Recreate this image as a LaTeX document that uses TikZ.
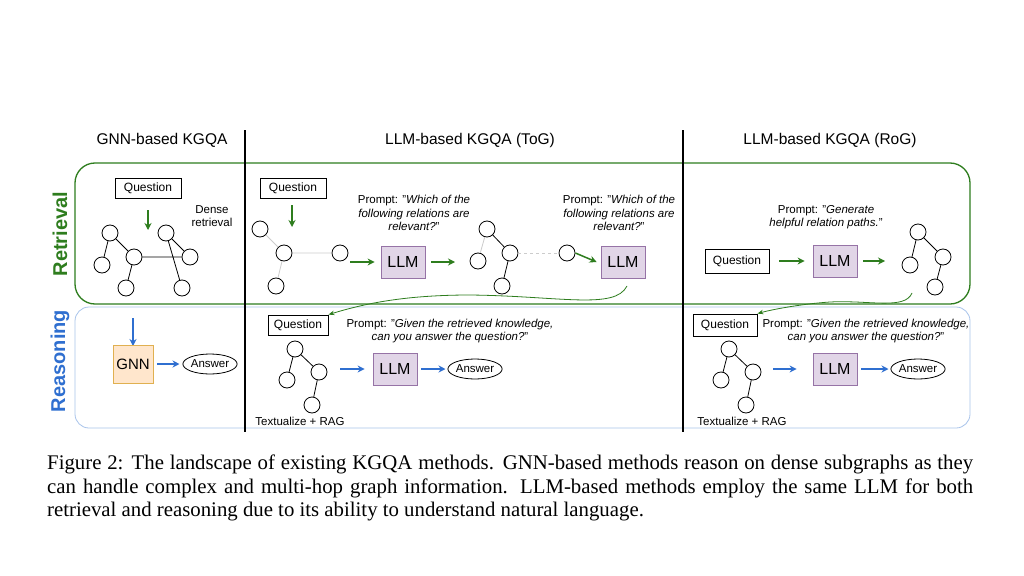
\documentclass[tikz,border=0pt]{standalone}
\usepackage{fontspec}
\usetikzlibrary{shapes.geometric,arrows.meta}
\setmainfont{Liberation Sans}
\newfontfamily\capfont{Liberation Serif}
\definecolor{gr}{HTML}{2E7D1E}
\definecolor{bl}{HTML}{2F6FD0}
\definecolor{pfill}{HTML}{E1D5E7}
\definecolor{pdraw}{HTML}{9673A6}
\definecolor{ofill}{HTML}{FFE6CC}
\definecolor{odraw}{HTML}{E0B050}
\definecolor{bbox}{HTML}{A9C4EB}
\begin{document}
\begin{tikzpicture}[x=1pt,y=-1pt,
  q/.style={draw,thick,minimum width=#1,minimum height=20,inner sep=0,font=\fontsize{12}{14}\selectfont},
  q/.default=66,
  llm/.style={draw=pdraw,fill=pfill,thick,minimum width=44,minimum height=32,inner sep=0,font=\fontsize{16}{18}\selectfont},
  ans/.style={draw,thick,ellipse,minimum width=46,minimum height=20,inner sep=0,font=\fontsize{11.5}{13}\selectfont},
  v/.style={circle,draw,thick,minimum size=16,inner sep=0},
  e/.style={thick},
  ge/.style={draw=gray!40,thick},
  ga/.style={draw=gr,line width=1.5pt,-{Stealth[length=7pt,width=7pt]}},
  ba/.style={draw=bl,line width=1.5pt,-{Stealth[length=7pt,width=7pt]}},
  pr/.style={align=center,font=\fontsize{11.5}{13.5}\selectfont},
  hd/.style={font=\fontsize{15.5}{17}\selectfont},
  sm/.style={font=\fontsize{11.5}{13}\selectfont}]
\useasboundingbox (0,0) rectangle (1024,575);
\fill[white] (0,0) rectangle (1024,575);
% panels
\draw[gr,line width=1.3pt,rounded corners=20] (75,163) rectangle (970,304);
\draw[bbox,thick,rounded corners=14] (75,307) rectangle (970,428);
\draw[line width=1.2pt] (245,130) -- (245,432);
\draw[line width=1.2pt] (683,130) -- (683,432);
\node[hd] (h1) at (162,140) {GNN-based KGQA};
\node[hd] (h2) at (470,140) {LLM-based KGQA (ToG)};
\node[hd] (h3) at (830,140) {LLM-based KGQA (RoG)};
\node[rotate=90,font=\bfseries\fontsize{20}{22}\selectfont,text=gr] (rt) at (60,234) {Retrieval};
\node[rotate=90,font=\bfseries\fontsize{20}{22}\selectfont,text=bl] (rs) at (60,361) {Reasoning};
% GNN column
\node[q] (gq) at (148,188) {Question};
\coordinate (ga1) at (148,210); \coordinate (ga2) at (148,230);
\draw[ga] (ga1) -- (ga2);
\node[pr,sm] (dr) at (212,216) {Dense\\retrieval};
\node[v] (a1) at (110,233) {}; \node[v] (a2) at (102,265) {}; \node[v] (a3) at (134,257) {};
\node[v] (a4) at (166,233) {}; \node[v] (a5) at (190,257) {}; \node[v] (a6) at (126,288) {}; \node[v] (a7) at (182,288) {};
\draw[e] (a1)--(a2) (a1)--(a3) (a3)--(a6) (a3)--(a5) (a4)--(a5) (a4)--(a7);
\coordinate (gb1) at (133,318); \coordinate (gb2) at (133,346);
\draw[ba] (gb1) -- (gb2);
\node[draw=odraw,fill=ofill,thick,minimum width=40,minimum height=38,inner sep=0,font=\fontsize{15}{17}\selectfont] (gnn) at (133,364) {GNN};
\node[ans] (gans) at (210,364) {Answer};
\draw[ba] ([xshift=4]gnn.east) -- ([xshift=-3]gans.west);
% ToG retrieval
\node[q] (tq) at (293,188) {Question};
\coordinate (ta1) at (292,205); \coordinate (ta2) at (292,227);
\draw[ga] (ta1) -- (ta2);
\node[v] (b1) at (260,229) {}; \node[v] (b2) at (284,253) {}; \node[v] (b3) at (276,286) {}; \node[v] (b4) at (340,253) {};
\draw[ge] (b1)--(b2) (b2)--(b3) (b2)--(b4);
\node[llm] (l1) at (403,262) {LLM};
\draw[ga] (350,262) -- ([xshift=-6]l1.west);
\node[pr] (p1) at (414,213) {Prompt: "\textit{Which of the}\\\textit{following relations are}\\\textit{relevant?}"};
\node[v] (c1) at (487,229) {}; \node[v] (c2) at (478,261) {}; \node[v] (c3) at (510,253) {}; \node[v] (c4) at (502,286) {}; \node[v] (c5) at (567,253) {};
\draw[ge] (c1)--(c2); \draw[e] (c1)--(c3) (c3)--(c4);
\draw[ge,dashed] (c3)--(c5);
\draw[ga] ([xshift=6]l1.east) -- (455,262);
\node[llm] (l2) at (623,262) {LLM};
\draw[ga] (c5.east) -- ([xshift=-4]l2.west);
\node[pr] (p2) at (619,213) {Prompt: "\textit{Which of the}\\\textit{following relations are}\\\textit{relevant?}"};
% ToG reasoning
\node[q=60] (tq2) at (298,325) {Question};
\draw[gr,thick,-{Stealth[length=6pt]}] (627,286) .. controls (615,310) and (560,296) .. (470,295) .. controls (400,295) and (360,305) .. (tq2.north east);
\node[pr] (p3) at (450,331) {Prompt: "\textit{Given the retrieved knowledge,}\\\textit{can you answer the question?}"};
\node[v] (d1) at (295,349) {}; \node[v] (d2) at (287,380) {}; \node[v] (d3) at (319,372) {}; \node[v] (d4) at (312,405) {};
\draw[e] (d1)--(d2) (d1)--(d3) (d3)--(d4);
\node[sm] (t1) at (300,421) {Textualize + RAG};
\node[llm] (l3) at (395,369) {LLM};
\draw[ba] (340,369) -- ([xshift=-8]l3.west);
\node[ans] (tans) at (475,369) {Answer};
\draw[ba] ([xshift=4]l3.east) -- ([xshift=-2]tans.west);
% RoG retrieval
\node[pr] (p4) at (826,217) {Prompt: "\textit{Generate}\\\textit{helpful relation paths.}"};
\node[q=64,minimum height=24] (rq) at (737,261) {Question};
\node[llm] (l4) at (835,261) {LLM};
\draw[ga] ([xshift=10]rq.east) -- ([xshift=-8]l4.west);
\node[v] (f1) at (918,232) {}; \node[v] (f2) at (910,265) {}; \node[v] (f3) at (943,257) {}; \node[v] (f4) at (935,287) {};
\draw[e] (f1)--(f2) (f1)--(f3) (f3)--(f4);
\draw[ga] ([xshift=6]l4.east) -- (885,261);
% RoG reasoning
\node[q=64,minimum height=22] (rq2) at (725,325) {Question};
\draw[gr,thick,-{Stealth[length=6pt]}] (912,293) .. controls (905,310) and (870,300) .. (830,302) .. controls (800,304) and (770,310) .. (rq2.north east);
\node[pr] (p5) at (866,331) {Prompt: "\textit{Given the retrieved knowledge,}\\\textit{can you answer the question?}"};
\node[v] (g1) at (729,349) {}; \node[v] (g2) at (721,380) {}; \node[v] (g3) at (753,372) {}; \node[v] (g4) at (746,405) {};
\draw[e] (g1)--(g2) (g1)--(g3) (g3)--(g4);
\node[sm] (t2) at (742,421) {Textualize + RAG};
\node[llm] (l5) at (835,369) {LLM};
\draw[ba] (773,369) -- ([xshift=-16]l5.west);
\node[ans] (rans) at (918,369) {Answer};
\draw[ba] ([xshift=4]l5.east) -- ([xshift=-2]rans.west);
% caption
\node[anchor=north west,text width=926,align=justify,inner sep=0,font=\capfont\fontsize{20.8}{23.4}\selectfont] (cap) at (47,455) {Figure 2: The landscape of existing KGQA methods. GNN-based methods reason on dense subgraphs as they can handle complex and multi-hop graph information. LLM-based methods employ the same LLM for both retrieval and reasoning due to its ability to understand natural language.};
\end{tikzpicture}
\end{document}
